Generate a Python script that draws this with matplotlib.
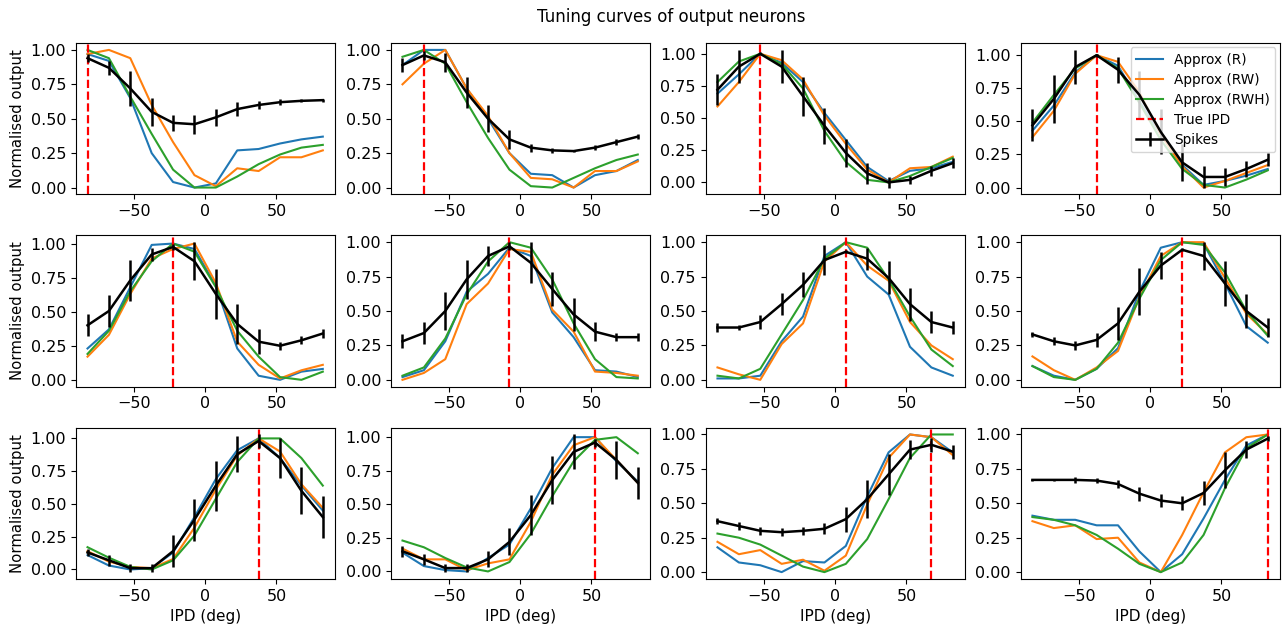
import numpy as np
import matplotlib
matplotlib.use("Agg")
import matplotlib.pyplot as plt

ipd = [-82.5, -67.5, -52.5, -37.5, -22.5, -7.5, 7.5, 22.5, 37.5, 52.5, 67.5, 82.5]
true_ipd = [-82.5, -67.5, -52.5, -37.5, -22.5, -7.5, 7.5, 22.5, 37.5, 52.5, 67.5, 82.5]

approx_r = [
    [0.97, 0.92, 0.65, 0.25, 0.04, 0.00, 0.03, 0.27, 0.28, 0.32, 0.35, 0.37],
    [0.89, 1.00, 1.00, 0.72, 0.50, 0.25, 0.10, 0.09, 0.00, 0.09, 0.12, 0.20],
    [0.69, 0.84, 1.00, 0.93, 0.78, 0.54, 0.33, 0.12, 0.01, 0.09, 0.11, 0.16],
    [0.43, 0.62, 0.87, 1.00, 0.92, 0.65, 0.40, 0.17, 0.02, 0.05, 0.09, 0.14],
    [0.23, 0.37, 0.68, 0.99, 1.00, 0.96, 0.69, 0.23, 0.03, 0.00, 0.06, 0.08],
    [0.02, 0.07, 0.28, 0.64, 0.77, 0.96, 0.90, 0.49, 0.31, 0.07, 0.06, 0.02],
    [0.01, 0.01, 0.03, 0.28, 0.46, 0.90, 1.00, 0.75, 0.62, 0.24, 0.09, 0.03],
    [0.10, 0.03, 0.00, 0.08, 0.23, 0.64, 0.96, 1.00, 0.99, 0.70, 0.39, 0.27],
    [0.11, 0.03, 0.00, 0.01, 0.13, 0.40, 0.69, 0.91, 1.00, 0.85, 0.64, 0.45],
    [0.14, 0.04, 0.01, 0.00, 0.10, 0.20, 0.47, 0.77, 1.00, 1.00, 0.82, 0.67],
    [0.18, 0.07, 0.05, 0.00, 0.08, 0.07, 0.19, 0.55, 0.87, 1.00, 0.98, 0.87],
    [0.41, 0.38, 0.38, 0.34, 0.34, 0.15, 0.00, 0.13, 0.39, 0.67, 0.92, 1.00],
]
approx_rw = [
    [0.97, 1.00, 0.94, 0.60, 0.33, 0.09, 0.01, 0.14, 0.12, 0.22, 0.22, 0.27],
    [0.75, 0.90, 1.00, 0.72, 0.52, 0.25, 0.07, 0.06, 0.00, 0.12, 0.12, 0.19],
    [0.59, 0.78, 1.00, 0.95, 0.80, 0.52, 0.30, 0.10, 0.00, 0.11, 0.12, 0.20],
    [0.38, 0.58, 0.86, 1.00, 0.95, 0.72, 0.40, 0.16, 0.00, 0.05, 0.11, 0.17],
    [0.17, 0.33, 0.63, 0.89, 0.96, 1.00, 0.71, 0.28, 0.11, 0.01, 0.07, 0.11],
    [0.00, 0.05, 0.15, 0.55, 0.70, 0.95, 0.93, 0.51, 0.35, 0.06, 0.05, 0.03],
    [0.09, 0.04, 0.00, 0.26, 0.41, 0.86, 1.00, 0.83, 0.72, 0.42, 0.25, 0.15],
    [0.17, 0.07, 0.00, 0.09, 0.21, 0.60, 0.90, 1.00, 1.00, 0.74, 0.48, 0.33],
    [0.14, 0.06, 0.02, 0.01, 0.08, 0.32, 0.61, 0.87, 1.00, 0.90, 0.65, 0.47],
    [0.17, 0.09, 0.09, 0.01, 0.06, 0.09, 0.37, 0.72, 0.94, 1.00, 0.83, 0.66],
    [0.22, 0.13, 0.16, 0.06, 0.09, 0.01, 0.12, 0.49, 0.83, 1.00, 0.98, 0.85],
    [0.37, 0.32, 0.34, 0.24, 0.25, 0.07, 0.00, 0.27, 0.58, 0.87, 0.98, 1.00],
]
approx_rwh = [
    [1.00, 0.94, 0.66, 0.39, 0.13, 0.00, 0.00, 0.08, 0.17, 0.24, 0.29, 0.31],
    [0.95, 1.00, 0.90, 0.62, 0.36, 0.13, 0.01, 0.00, 0.07, 0.14, 0.20, 0.24],
    [0.78, 0.94, 1.00, 0.92, 0.73, 0.40, 0.16, 0.02, 0.00, 0.05, 0.12, 0.19],
    [0.49, 0.70, 0.90, 1.00, 0.90, 0.64, 0.36, 0.14, 0.02, 0.00, 0.06, 0.13],
    [0.19, 0.36, 0.65, 0.87, 1.00, 0.94, 0.68, 0.36, 0.17, 0.02, 0.00, 0.06],
    [0.03, 0.09, 0.30, 0.62, 0.86, 1.00, 0.96, 0.73, 0.41, 0.15, 0.02, 0.01],
    [0.03, 0.01, 0.08, 0.33, 0.58, 0.88, 1.00, 0.96, 0.73, 0.46, 0.22, 0.10],
    [0.10, 0.02, 0.00, 0.08, 0.27, 0.59, 0.87, 1.00, 0.98, 0.78, 0.50, 0.32],
    [0.17, 0.09, 0.02, 0.00, 0.07, 0.26, 0.54, 0.82, 1.00, 1.00, 0.85, 0.64],
    [0.23, 0.18, 0.10, 0.03, 0.00, 0.07, 0.28, 0.56, 0.82, 0.98, 1.00, 0.88],
    [0.28, 0.25, 0.20, 0.12, 0.04, 0.00, 0.06, 0.24, 0.53, 0.83, 1.00, 1.00],
    [0.40, 0.38, 0.34, 0.27, 0.17, 0.06, 0.00, 0.07, 0.27, 0.61, 0.90, 1.00],
]
spikes_mean = [
    [0.94, 0.87, 0.72, 0.55, 0.47, 0.46, 0.51, 0.57, 0.60, 0.62, 0.63, 0.635],
    [0.89, 0.96, 0.91, 0.69, 0.50, 0.35, 0.29, 0.27, 0.265, 0.29, 0.33, 0.37],
    [0.72, 0.90, 1.00, 0.90, 0.67, 0.44, 0.23, 0.07, 0.00, 0.02, 0.09, 0.15],
    [0.47, 0.67, 0.91, 1.00, 0.89, 0.70, 0.42, 0.19, 0.08, 0.08, 0.14, 0.21],
    [0.40, 0.505, 0.73, 0.92, 0.975, 0.87, 0.63, 0.41, 0.28, 0.25, 0.29, 0.34],
    [0.28, 0.34, 0.50, 0.73, 0.90, 0.97, 0.85, 0.66, 0.475, 0.35, 0.31, 0.31],
    [0.38, 0.38, 0.42, 0.55, 0.69, 0.87, 0.93, 0.88, 0.74, 0.55, 0.42, 0.38],
    [0.33, 0.28, 0.25, 0.29, 0.41, 0.64, 0.83, 0.945, 0.90, 0.70, 0.50, 0.38],
    [0.13, 0.07, 0.01, 0.01, 0.14, 0.38, 0.64, 0.88, 0.98, 0.85, 0.60, 0.40],
    [0.15, 0.09, 0.025, 0.025, 0.09, 0.22, 0.42, 0.68, 0.89, 0.96, 0.83, 0.66],
    [0.37, 0.335, 0.30, 0.29, 0.30, 0.315, 0.385, 0.53, 0.71, 0.89, 0.925, 0.875],
    [0.67, 0.67, 0.67, 0.665, 0.64, 0.57, 0.52, 0.50, 0.575, 0.74, 0.89, 0.97],
]
spikes_err = [
    [0.03, 0.05, 0.13, 0.10, 0.06, 0.07, 0.06, 0.05, 0.03, 0.02, 0.01, 0.01],
    [0.05, 0.03, 0.07, 0.11, 0.10, 0.07, 0.03, 0.02, 0.01, 0.02, 0.02, 0.02],
    [0.12, 0.13, 0.01, 0.13, 0.15, 0.14, 0.11, 0.08, 0.04, 0.03, 0.04, 0.04],
    [0.12, 0.18, 0.13, 0.01, 0.10, 0.18, 0.17, 0.14, 0.08, 0.07, 0.06, 0.05],
    [0.08, 0.12, 0.15, 0.05, 0.02, 0.14, 0.18, 0.15, 0.09, 0.03, 0.03, 0.03],
    [0.05, 0.08, 0.14, 0.14, 0.07, 0.03, 0.15, 0.12, 0.12, 0.07, 0.03, 0.03],
    [0.03, 0.02, 0.05, 0.08, 0.09, 0.11, 0.01, 0.08, 0.12, 0.12, 0.08, 0.05],
    [0.02, 0.03, 0.03, 0.05, 0.12, 0.17, 0.10, 0.01, 0.10, 0.16, 0.12, 0.07],
    [0.03, 0.04, 0.03, 0.03, 0.12, 0.16, 0.19, 0.14, 0.05, 0.15, 0.18, 0.16],
    [0.04, 0.04, 0.03, 0.03, 0.06, 0.10, 0.15, 0.18, 0.13, 0.03, 0.14, 0.12],
    [0.02, 0.03, 0.03, 0.03, 0.03, 0.04, 0.09, 0.14, 0.15, 0.07, 0.05, 0.05],
    [0.01, 0.01, 0.02, 0.02, 0.03, 0.05, 0.05, 0.05, 0.09, 0.13, 0.06, 0.02],
]

fig, axes = plt.subplots(3, 4, figsize=(12.84, 6.29), dpi=100)
fig.subplots_adjust(left=0.059, right=0.9965, top=0.9316, bottom=0.0795,
                    wspace=0.217, hspace=0.27)

for i, ax in enumerate(axes.flat):
    ax.plot(ipd, approx_r[i], color="#1f77b4", lw=1.5, label="Approx (R)")
    ax.plot(ipd, approx_rw[i], color="#ff7f0e", lw=1.5, label="Approx (RW)")
    ax.plot(ipd, approx_rwh[i], color="#2ca02c", lw=1.5, label="Approx (RWH)")
    ax.axvline(true_ipd[i], color="red", ls="--", lw=1.6, label="True IPD")
    ax.errorbar(ipd, spikes_mean[i], yerr=spikes_err[i], color="black",
                lw=1.8, elinewidth=1.8, label="Spikes", zorder=5)
    ax.set_yticks([0.0, 0.25, 0.5, 0.75, 1.0])
    ax.set_xticks([-50, 0, 50])
    ax.tick_params(labelsize=11.5)
    if i % 4 == 0:
        ax.set_ylabel("Normalised output", fontsize=10.7)
    if i >= 8:
        ax.set_xlabel("IPD (deg)", fontsize=11)
    if i == 3:
        ax.legend(loc="upper right", fontsize=9.8, handlelength=2.0,
                  borderaxespad=0.3, labelspacing=0.45)

fig.suptitle("Tuning curves of output neurons", fontsize=12, x=0.5226, y=0.988)
fig.savefig("out.png", dpi=100)
